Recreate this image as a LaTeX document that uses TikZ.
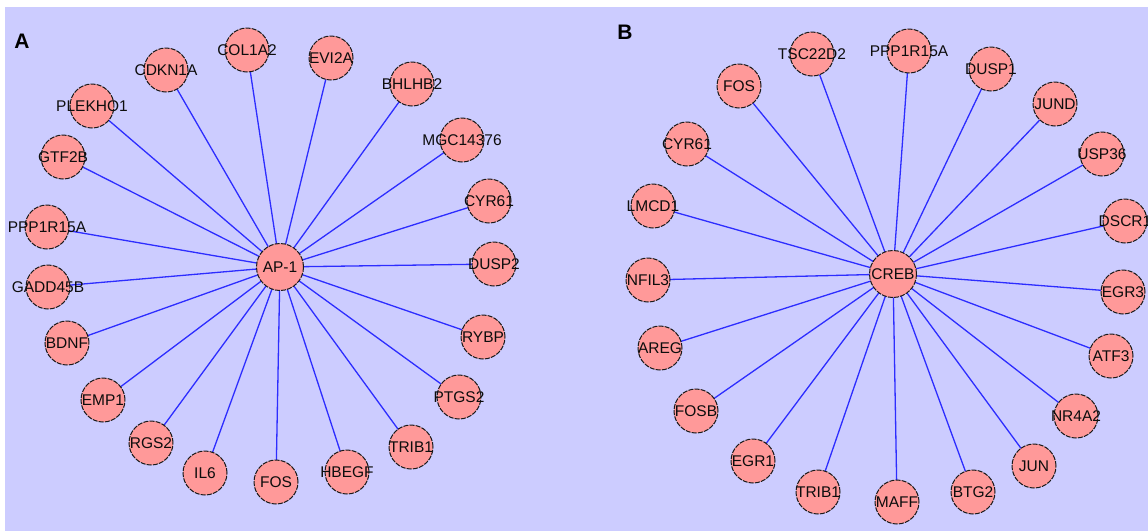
\documentclass[tikz,border=0pt]{standalone}
\usepackage{fontspec}
\setmainfont{Liberation Sans}
\usetikzlibrary{backgrounds}
\definecolor{lav}{RGB}{204,204,255}
\definecolor{pinkfill}{RGB}{255,153,153}
\definecolor{edgeblue}{RGB}{45,45,255}
\tikzset{
  gene/.style={circle, fill=pinkfill, draw=black!90, line width=1pt,
    dash pattern=on 5pt off 1.2pt, minimum size=44pt, inner sep=0pt,
    label={[font=\fontsize{15.5}{16}\selectfont, text=black!95]center:#1}},
  hub/.style={gene=#1, minimum size=47pt},
  link/.style={draw=edgeblue, line width=1.3pt},
  panel/.style={font=\bfseries\fontsize{21}{22}\selectfont, text=black}
}
\begin{document}
\begin{tikzpicture}[x=1pt,y=-1pt]
\useasboundingbox (0,0) rectangle (1148,531);
% Panel A
\node[hub=AP-1] (a0) at (280,267) {};
\node[gene=COL1A2] (a1) at (247,50) {};
\node[gene=EVI2A] (a2) at (331,58) {};
\node[gene=CDKN1A] (a3) at (166,70) {};
\node[gene=BHLHB2] (a4) at (412,84) {};
\node[gene=PLEKHO1] (a5) at (92,106) {};
\node[gene=MGC14376] (a6) at (462,140) {};
\node[gene=GTF2B] (a7) at (63,157) {};
\node[gene=CYR61] (a8) at (489,201) {};
\node[gene=PPP1R15A] (a9) at (47,227) {};
\node[gene=DUSP2] (a10) at (494,264) {};
\node[gene=GADD45B] (a11) at (48,287) {};
\node[gene=BDNF] (a12) at (67,343) {};
\node[gene=RYBP] (a13) at (483,337) {};
\node[gene=EMP1] (a14) at (103,400) {};
\node[gene=PTGS2] (a15) at (459,397) {};
\node[gene=RGS2] (a16) at (151,443) {};
\node[gene=TRIB1] (a17) at (411,447) {};
\node[gene=IL6] (a18) at (205,473) {};
\node[gene=FOS] (a19) at (276,482) {};
\node[gene=HBEGF] (a20) at (347,472) {};
% Panel B
\node[hub=CREB] (b0) at (893,274) {};
\node[gene=FOS] (b1) at (739,86) {};
\node[gene=TSC22D2] (b2) at (812,54) {};
\node[gene=PPP1R15A] (b3) at (909,51) {};
\node[gene=DUSP1] (b4) at (991,69) {};
\node[gene=JUND] (b5) at (1055,104) {};
\node[gene=USP36] (b6) at (1102,154) {};
\node[gene=DSCR1] (b7) at (1125,221) {};
\node[gene=CYR61] (b8) at (687,144) {};
\node[gene=LMCD1] (b9) at (653,206) {};
\node[gene=NFIL3] (b10) at (648,280) {};
\node[gene=EGR3] (b11) at (1123,292) {};
\node[gene=AREG] (b12) at (660,348) {};
\node[gene=ATF3] (b13) at (1111,356) {};
\node[gene=FOSB] (b14) at (696,411) {};
\node[gene=NR4A2] (b15) at (1076,416) {};
\node[gene=EGR1] (b16) at (753,461) {};
\node[gene=JUN] (b17) at (1034,466) {};
\node[gene=TRIB1] (b18) at (818,492) {};
\node[gene=MAFF] (b19) at (897,502) {};
\node[gene=BTG2] (b20) at (973,492) {};
% panel letters
\node[panel] (la) at (22,41) {A};
\node[panel] (lb) at (625,32) {B};
\begin{scope}[on background layer]
  \fill[white] (0,0) rectangle (1148,531);
  \fill[lav] (5,7) rectangle (1148,531);
  \foreach \i in {1,...,20} {\draw[link] (a0.center) -- (a\i.center);}
  \foreach \i in {1,...,20} {\draw[link] (b0.center) -- (b\i.center);}
\end{scope}
\end{tikzpicture}
\end{document}
